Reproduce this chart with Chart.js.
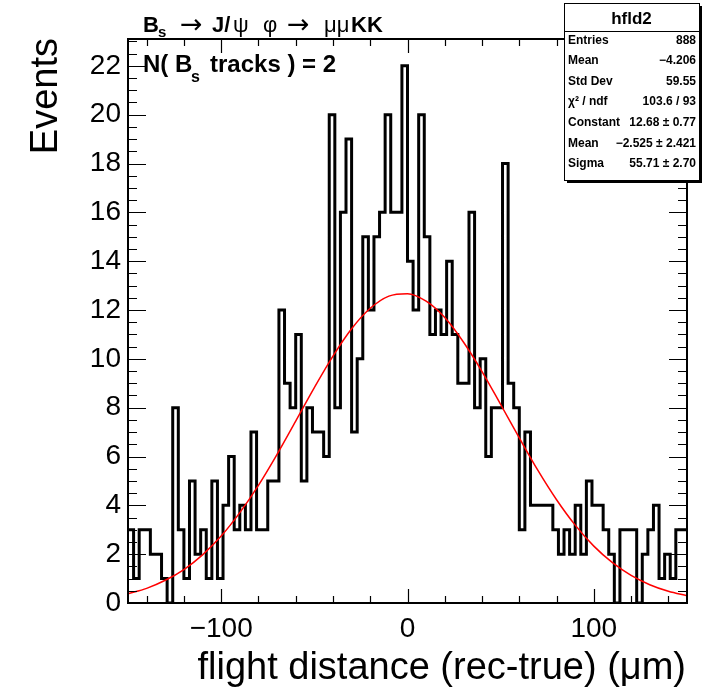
<!DOCTYPE html>
<html>
<head>
<meta charset="utf-8">
<title>hfld2</title>
<script src="https://cdn.jsdelivr.net/npm/chart.js@4.4.1/dist/chart.umd.min.js"></script>
<style>
  html, body { margin: 0; padding: 0; background: #fff; }
  #wrap { width: 718px; height: 693px; }
</style>
</head>
<body>
<div id="wrap"><canvas id="histChart" width="718" height="693"></canvas></div>
<script>
// histogram: 100 bins of 3 um from -150 to 150
const xMin = -150;
const xMax = 150;
const binWidth = 3;
const eventCounts = [
  3, 1, 3, 3, 2, 2, 1, 0, 8, 3,
  1, 5, 2, 3, 1, 5, 1, 4, 6, 3,
  4, 3, 7, 3, 3, 5, 5, 12, 9, 8,
  11, 5, 8, 7, 7, 6, 20, 8, 16, 19,
  7, 10, 15, 12, 15, 16, 20, 16, 16, 22,
  14, 12, 20, 15, 11, 12, 11, 14, 11, 9,
  9, 16, 8, 10, 6, 8, 8, 18, 9, 8,
  3, 7, 4, 4, 4, 4, 3, 2, 3, 2,
  4, 2, 5, 4, 4, 3, 2, 0, 3, 3,
  3, 0, 2, 3, 4, 1, 2, 1, 3, 3
];

// gaussian fit curve, sampled every 10 um
const fitX = [-150, -140, -130, -120, -110, -100, -90, -80, -70, -60, -50, -40, -30, -20, -10,
  0, 10, 20, 30, 40, 50, 60, 70, 80, 90, 100, 110, 120, 130, 140, 150];
const fitY = [0.38, 0.60, 0.93, 1.37, 1.97, 2.74, 3.70, 4.82, 6.09, 7.45, 8.82, 10.11, 11.23, 12.07, 12.57,
  12.67, 12.36, 11.69, 10.69, 9.48, 8.13, 6.76, 5.43, 4.23, 3.19, 2.33, 1.65, 1.13, 0.75, 0.48, 0.30];

const xTickValues = [-100, 0, 100];
const yTickValues = [0, 2, 4, 6, 8, 10, 12, 14, 16, 18, 20, 22];
const yMax = 23.1;

const statsTitle = 'hfld2';
const statsNames = ['Entries', 'Mean', 'Std Dev', 'χ² / ndf', 'Constant', 'Mean', 'Sigma'];
const statsValues = ['888', '−4.206', '59.55', '103.6 / 93', '12.68 ± 0.77', '−2.525 ± 2.421', '55.71 ± 2.70'];

const FONT = '"Liberation Sans", Arial, Helvetica, sans-serif';
const SYMFONT = '"DejaVu Sans", sans-serif';

function fmtTick(v) {
  return v < 0 ? '\u2212' + Math.abs(v) : String(v);
}

function histPoints() {
  const pts = eventCounts.map((c, i) => ({ x: xMin + i * binWidth, y: c }));
  pts.push({ x: xMax, y: eventCounts[eventCounts.length - 1] });
  return pts;
}

function drawFrameAndTicks(chart) {
  const { ctx, chartArea: a, scales: { x, y } } = chart;
  ctx.save();
  ctx.strokeStyle = '#000';
  ctx.lineWidth = 1.2;
  ctx.beginPath();
  // x ticks, top and bottom, pointing inward
  for (let v = -140; v <= 140; v += 20) {
    const px = Math.round(x.getPixelForValue(v)) + 0.5;
    const len = v % 100 === 0 ? 14 : 7;
    ctx.moveTo(px, a.bottom); ctx.lineTo(px, a.bottom - len);
    ctx.moveTo(px, a.top); ctx.lineTo(px, a.top + len);
  }
  // y ticks, left and right
  for (let v = 0.5; v < yMax; v += 0.5) {
    const py = Math.round(y.getPixelForValue(v)) + 0.5;
    const len = v % 2 === 0 ? 18 : 9;
    ctx.moveTo(a.left, py); ctx.lineTo(a.left + len, py);
    ctx.moveTo(a.right, py); ctx.lineTo(a.right - len, py);
  }
  ctx.stroke();
  ctx.lineWidth = 2;
  ctx.strokeRect(a.left, a.top, a.right - a.left, a.bottom - a.top);
  ctx.restore();
}

function drawSegments(ctx, segs, baseline) {
  segs.forEach(s => {
    ctx.font = s.f + ' ' + (s.sym ? SYMFONT : FONT);
    ctx.fillText(s.t, s.x, baseline + (s.dy || 0));
  });
}

function drawLabels(chart) {
  const ctx = chart.ctx;
  ctx.save();
  ctx.fillStyle = '#000';
  ctx.textBaseline = 'alphabetic';
  ctx.textAlign = 'left';

  // decay title
  drawSegments(ctx, [
    { t: 'B', x: 143, f: 'bold 22px' },
    { t: 's', x: 158, f: 'bold 15px', dy: 5 },
    { t: '→', x: 180, f: '27px', sym: true, dy: 1 },
    { t: 'J/', x: 212, f: 'bold 22px' },
    { t: 'ψ', x: 233, f: '22px' },
    { t: 'φ', x: 263, f: '22px' },
    { t: '→', x: 287, f: '27px', sym: true, dy: 1 },
    { t: 'μμ', x: 324, f: '22px' },
    { t: 'KK', x: 351, f: 'bold 22px' }
  ], 32);

  drawSegments(ctx, [
    { t: 'N(', x: 143, f: 'bold 24px' },
    { t: 'B', x: 175, f: 'bold 24px' },
    { t: 's', x: 191, f: 'bold 16px', dy: 10 },
    { t: 'tracks ) = 2', x: 210, f: 'bold 24px' }
  ], 72);

  // axis titles
  ctx.font = '38px ' + FONT;
  ctx.textAlign = 'right';
  ctx.fillText('flight distance (rec-true) (μm)', 686, 679);

  ctx.save();
  ctx.translate(57, 38);
  ctx.rotate(-Math.PI / 2);
  ctx.fillText('Events', 0, 0);
  ctx.restore();

  drawStatsBox(ctx);
  ctx.restore();
}

function drawStatsBox(ctx) {
  const bx = 564, by = 3, bw = 135, bh = 177;
  ctx.fillStyle = '#000';
  ctx.fillRect(bx + 3, by + 3, bw, bh);
  ctx.fillStyle = '#fff';
  ctx.fillRect(bx, by, bw, bh);
  ctx.strokeStyle = '#000';
  ctx.lineWidth = 1;
  ctx.strokeRect(bx + 0.5, by + 0.5, bw, bh);
  ctx.beginPath();
  ctx.moveTo(bx, 31.5); ctx.lineTo(bx + bw, 31.5);
  ctx.stroke();

  ctx.fillStyle = '#000';
  ctx.font = 'bold 17px ' + FONT;
  ctx.textAlign = 'center';
  ctx.fillText(statsTitle, bx + bw / 2, 24);

  ctx.font = 'bold 12px ' + FONT;
  statsNames.forEach((name, i) => {
    const yb = 43.5 + i * 20.6;
    ctx.textAlign = 'left';
    ctx.fillText(name, bx + 4, yb);
    ctx.textAlign = 'right';
    ctx.fillText(statsValues[i], bx + bw - 3, yb);
  });
}

const rootStylePlugin = {
  id: 'rootStyle',
  afterDatasetsDraw(chart) { drawFrameAndTicks(chart); },
  afterDraw(chart) { drawLabels(chart); }
};

document.addEventListener('DOMContentLoaded', () => {
  const ctx = document.getElementById('histChart').getContext('2d');

  new Chart(ctx, {
    type: 'line',
    data: {
      datasets: [
        {
          label: 'gaus fit',
          data: fitX.map((v, i) => ({ x: v, y: fitY[i] })),
          borderColor: '#ff0000',
          borderWidth: 1.5,
          pointRadius: 0,
          cubicInterpolationMode: 'monotone',
          fill: false,
          order: 0
        },
        {
          label: 'hfld2',
          data: histPoints(),
          borderColor: '#000',
          borderWidth: 3,
          borderJoinStyle: 'miter',
          stepped: true,
          pointRadius: 0,
          fill: false,
          order: 1
        }
      ]
    },
    options: {
      responsive: false,
      animation: false,
      devicePixelRatio: 1,
      layout: { padding: { top: 39, right: 31, bottom: 0, left: 0 } },
      plugins: {
        legend: { display: false },
        tooltip: { enabled: false }
      },
      scales: {
        x: {
          type: 'linear',
          min: xMin,
          max: xMax,
          grid: { display: false, drawTicks: false },
          border: { display: false },
          afterBuildTicks: scale => { scale.ticks = xTickValues.map(v => ({ value: v })); },
          afterFit: scale => { scale.height = 90; },
          ticks: {
            padding: 9,
            color: '#000',
            font: { family: FONT, size: 28 },
            maxRotation: 0,
            callback: v => fmtTick(v)
          }
        },
        y: {
          type: 'linear',
          min: 0,
          max: yMax,
          grid: { display: false, drawTicks: false },
          border: { display: false },
          afterBuildTicks: scale => { scale.ticks = yTickValues.map(v => ({ value: v })); },
          afterFit: scale => { scale.width = 128; },
          ticks: {
            padding: 7,
            color: '#000',
            font: { family: FONT, size: 28 },
            callback: v => fmtTick(v)
          }
        }
      }
    },
    plugins: [rootStylePlugin]
  });
});
</script>
</body>
</html>
